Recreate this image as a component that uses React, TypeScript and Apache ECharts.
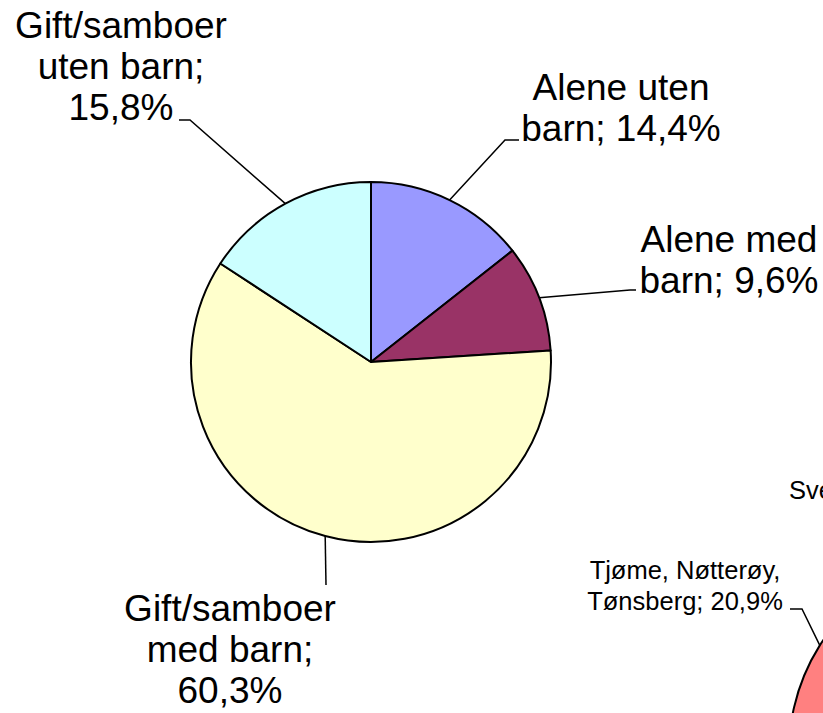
import React, { useEffect, useRef } from "react";
import * as echarts from "echarts";

// ---- Data ----
const householdTypes = ["Alene uten\nbarn", "Alene med\nbarn", "Gift/samboer\nmed barn", "Gift/samboer\nuten barn"];
const householdJoiners = ["; ", "; ", ";\n", ";\n"];
const householdShares = [14.4, 9.6, 60.3, 15.8];
const householdColors = ["#9999FF", "#993366", "#FFFFCC", "#CCFFFF"];

const areaNames = ["Øvrige", "Tjøme, Nøtterøy,\nTønsberg", "Sve"];
const areaShares = [73.5, 20.9, 5.6];
const areaColors = ["#9999FF", "#FF8080", "#0066CC"];

// ---- Layout (label spots, not data) ----
const mainLabelSpots = [
  { x: 621, y: 108, align: "center", bend: [505, 140], end: [519, 140] },
  { x: 729, y: 260, align: "center", bend: [630, 290], end: [636, 290] },
  { x: 230, y: 649, align: "center", bend: [326, 585], end: [326, 585] },
  { x: 121, y: 66, align: "center", bend: [190, 120], end: [179, 120] },
];
const areaLabelSpots = [
  null,
  { x: 685, y: 585, align: "center", bend: [802, 609], end: [790, 609] },
  { x: 789, y: 490, align: "left", bend: null, end: null },
];

const fmtPct = (v: number) => v.toFixed(1).replace(".", ",") + "%";
const FONT = "'Liberation Sans', Arial, Helvetica, sans-serif";

function makeLayout(spots: any[]) {
  return (p: any) => {
    const s = spots[p.dataIndex];
    if (!s) return {};
    const out: any = { x: s.x, y: s.y, align: s.align, verticalAlign: "middle" };
    const a = p.labelLinePoints && p.labelLinePoints[0];
    if (a && s.bend) out.labelLinePoints = [a, s.bend, s.end];
    return out;
  };
}

export default function App() {
  const ref = useRef<HTMLDivElement>(null);
  useEffect(() => {
    if (!ref.current) return;
    const chart = echarts.init(ref.current, undefined, { renderer: "svg" });
    chart.setOption({
      animation: false,
      backgroundColor: "#ffffff",
      series: [
        {
          type: "pie",
          center: [371, 362],
          radius: 180,
          startAngle: 90,
          clockwise: true,
          avoidLabelOverlap: false,
          itemStyle: { borderColor: "#000", borderWidth: 2 },
          emphasis: { disabled: true },
          label: {
            show: true,
            position: "outside",
            overflow: "none",
            color: "#000",
            fontFamily: FONT,
            fontSize: 37,
            lineHeight: 41,
            formatter: (p: any) => p.name + householdJoiners[p.dataIndex] + fmtPct(p.value),
          },
          labelLine: { show: true, lineStyle: { color: "#000", width: 1.5 }, length: 20, length2: 10 },
          labelLayout: makeLayout(mainLabelSpots),
          data: householdTypes.map((n, i) => ({
            name: n,
            value: householdShares[i],
            itemStyle: { color: householdColors[i] },
          })),
        },
        {
          type: "pie",
          center: [989, 752],
          radius: 200,
          startAngle: 90,
          clockwise: true,
          avoidLabelOverlap: false,
          itemStyle: { borderColor: "#000", borderWidth: 2 },
          emphasis: { disabled: true },
          label: {
            show: true,
            position: "outside",
            overflow: "none",
            color: "#000",
            fontFamily: FONT,
            fontSize: 25.5,
            lineHeight: 31,
            formatter: (p: any) => (p.dataIndex === 1 ? p.name + "; " + fmtPct(p.value) : p.name),
          },
          labelLine: { show: true, lineStyle: { color: "#000", width: 1.5 }, length: 20, length2: 10 },
          labelLayout: makeLayout(areaLabelSpots),
          data: areaNames.map((n, i) => ({
            name: n,
            value: areaShares[i],
            itemStyle: { color: areaColors[i] },
            label: i === 0 ? { show: false } : undefined,
            labelLine: i !== 1 ? { show: false } : undefined,
          })),
        },
      ],
    });
    return () => chart.dispose();
  }, []);
  return (
    <div
      ref={ref}
      style={{ position: "fixed", left: 0, top: 0, width: 823, height: 713, background: "#fff" }}
    />
  );
}
